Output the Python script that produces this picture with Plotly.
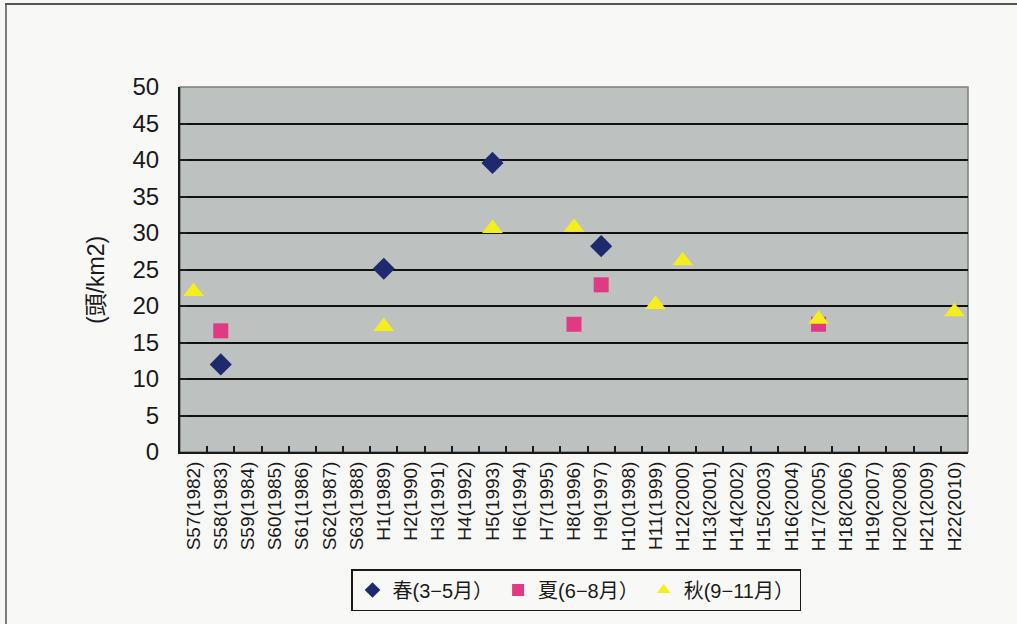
import plotly.graph_objects as go

# Survey years (Japanese era with western year)
years = [
    "S57(1982)", "S58(1983)", "S59(1984)", "S60(1985)", "S61(1986)", "S62(1987)",
    "S63(1988)", "H1(1989)", "H2(1990)", "H3(1991)", "H4(1992)", "H5(1993)",
    "H6(1994)", "H7(1995)", "H8(1996)", "H9(1997)", "H10(1998)", "H11(1999)",
    "H12(2000)", "H13(2001)", "H14(2002)", "H15(2003)", "H16(2004)", "H17(2005)",
    "H18(2006)", "H19(2007)", "H20(2008)", "H21(2009)", "H22(2010)",
]

# Density (head/km2) by season
spring_years = ["S58(1983)", "H1(1989)", "H5(1993)", "H9(1997)"]
spring_vals = [12.0, 25.1, 39.6, 28.2]

summer_years = ["S58(1983)", "H8(1996)", "H9(1997)", "H17(2005)"]
summer_vals = [16.6, 17.5, 22.9, 17.5]

autumn_years = ["S57(1982)", "H1(1989)", "H5(1993)", "H8(1996)", "H11(1999)",
                "H12(2000)", "H17(2005)", "H22(2010)"]
autumn_vals = [22.0, 17.2, 30.6, 30.8, 20.2, 26.2, 18.2, 19.2]

FONT = "Liberation Sans, Arial, Noto Sans CJK JP, sans-serif"

fig = go.Figure()
fig.add_trace(go.Scatter(
    x=spring_years, y=spring_vals, mode="markers", name="春(3−5月）",
    marker=dict(symbol="diamond", size=17, color="#1d2a6e",
                line=dict(width=0)),
))
fig.add_trace(go.Scatter(
    x=summer_years, y=summer_vals, mode="markers", name="夏(6−8月）",
    marker=dict(symbol="square", size=15, color="#e03a84",
                line=dict(width=0)),
))
fig.add_trace(go.Scatter(
    x=autumn_years, y=autumn_vals, mode="markers", name="秋(9−11月）",
    marker=dict(symbol="triangle-up", size=18, color="#f4ee1c",
                line=dict(width=0)),
))

W, H = 1017, 624
L, R, T, B = 180, 49, 87, 172
pw, ph = W - L - R, H - T - B


def px(x):
    return (x - L) / pw


def py(y):
    return (H - B - y) / ph


fig.update_layout(
    width=W, height=H,
    margin=dict(l=L, r=R, t=T, b=B),
    paper_bgcolor="#f8f8f6",
    plot_bgcolor="#bdc1bf",
    font=dict(family=FONT, color="#1a1a1a"),
    showlegend=True,
    legend=dict(
        orientation="h",
        x=px(576), xanchor="center",
        y=py(590), yanchor="middle",
        bgcolor="rgba(0,0,0,0)",
        bordercolor="#1a1a1a", borderwidth=1.5,
        font=dict(size=20, family=FONT),
        itemsizing="constant",
        itemwidth=30,
        tracegroupgap=0,
    ),
    xaxis=dict(
        type="category",
        categoryorder="array", categoryarray=years,
        range=[-0.5, len(years) - 0.5],
        tickmode="array", tickvals=years, ticktext=years,
        tickangle=-90,
        tickfont=dict(size=19, family=FONT, color="#1a1a1a"),
        tickson="boundaries",
        ticks="inside", ticklen=6, tickwidth=1.5, tickcolor="#1a1a1a",
        showline=True, linecolor="#1a1a1a", linewidth=2,
        showgrid=False, zeroline=False,
    ),
    yaxis=dict(
        range=[0, 50], dtick=5, tick0=0,
        tickfont=dict(size=24, family=FONT, color="#1a1a1a"),
        ticks="inside", ticklen=7, tickwidth=1.5, tickcolor="#1a1a1a",
        ticklabelstandoff=14,
        showline=True, linecolor="#1a1a1a", linewidth=2,
        showgrid=True, gridcolor="#111111", gridwidth=2,
        zeroline=False,
    ),
)

# Y-axis title
fig.add_annotation(
    text="(頭/km2)", textangle=-90, showarrow=False,
    xref="paper", yref="paper", x=px(96), y=py(280),
    xanchor="center", yanchor="middle",
    font=dict(size=23, family=FONT, color="#1a1a1a"),
)

# Plot-area frame (lighter top/right edges)
fig.add_shape(type="rect", xref="paper", yref="paper",
              x0=0, x1=1, y0=0, y1=1,
              line=dict(color="#7d7f7e", width=1.5), layer="below")

# Page frame lines
fig.add_shape(type="line", xref="paper", yref="paper",
              x0=px(5), x1=px(1030), y0=py(4), y1=py(4),
              line=dict(color="#555555", width=2))
fig.add_shape(type="line", xref="paper", yref="paper",
              x0=px(6), x1=px(6), y0=py(4), y1=py(640),
              line=dict(color="#555555", width=1.5))

fig.write_html("out.html")
